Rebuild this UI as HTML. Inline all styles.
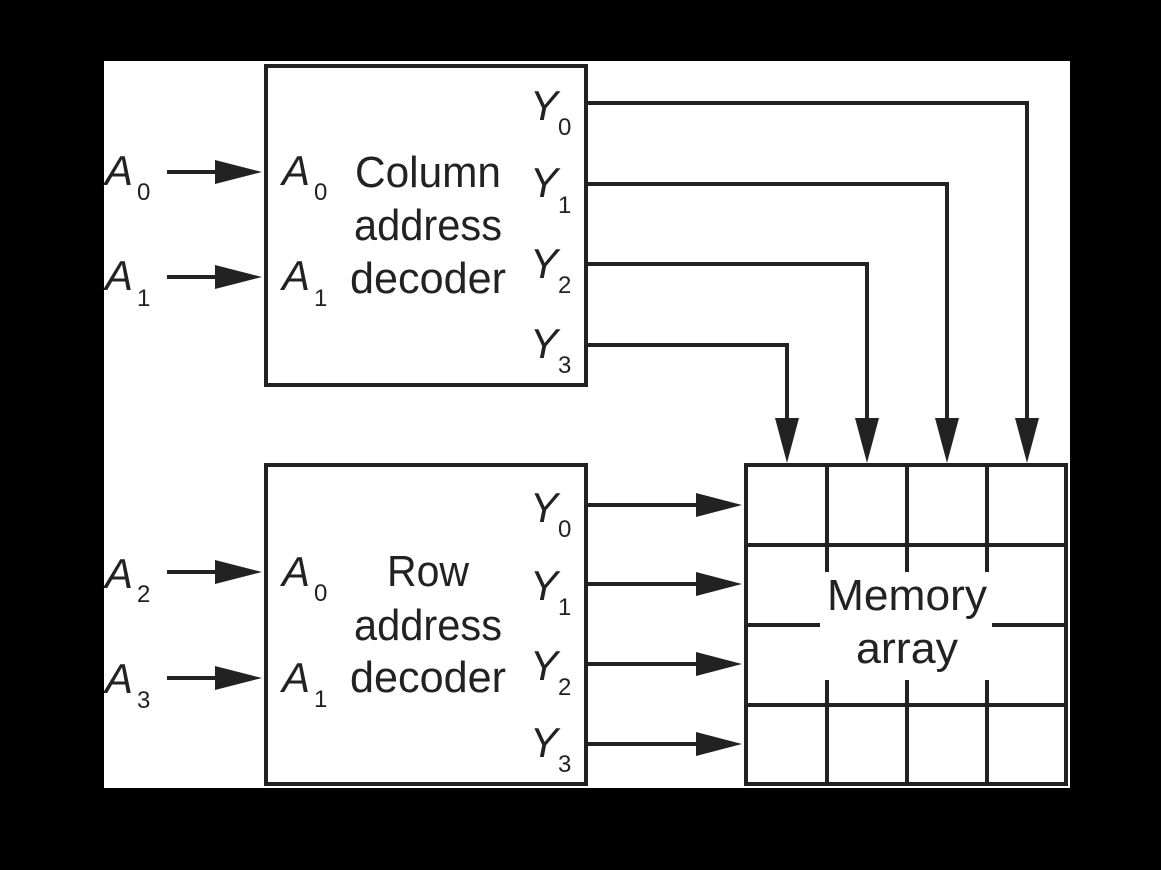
<!DOCTYPE html>
<html><head><style>html,body{margin:0;padding:0;background:#000;}svg{display:block}</style></head>
<body>
<svg width="1161" height="870" viewBox="0 0 1161 870" xmlns="http://www.w3.org/2000/svg" font-family="Liberation Sans, sans-serif" fill="#222">
<rect x="0" y="0" width="1161" height="870" fill="#000"/>
<rect x="104" y="61" width="966" height="727" fill="#fff"/>
<g stroke="#222" stroke-width="4" fill="none">
<rect x="266" y="66" width="320" height="319"/>
<rect x="266" y="465" width="320" height="319"/>
<rect x="746" y="465" width="320" height="319"/>
<!-- grid -->
<line x1="827" y1="465" x2="827" y2="572"/><line x1="907" y1="465" x2="907" y2="572"/><line x1="987" y1="465" x2="987" y2="572"/>
<line x1="827" y1="680" x2="827" y2="784"/><line x1="907" y1="680" x2="907" y2="784"/><line x1="987" y1="680" x2="987" y2="784"/>
<line x1="746" y1="545" x2="1066" y2="545"/><line x1="746" y1="705" x2="1066" y2="705"/>
<line x1="746" y1="625" x2="820" y2="625"/><line x1="992" y1="625" x2="1066" y2="625"/>
<!-- column outputs -->
<polyline points="586,103 1027,103 1027,425"/>
<polyline points="586,184 947,184 947,425"/>
<polyline points="586,264 867,264 867,425"/>
<polyline points="586,345 787,345 787,425"/>
<!-- row outputs -->
<line x1="586" y1="505" x2="700" y2="505"/><line x1="586" y1="584" x2="700" y2="584"/>
<line x1="586" y1="664" x2="700" y2="664"/><line x1="586" y1="744" x2="700" y2="744"/>
<!-- inputs -->
<line x1="167" y1="172" x2="220" y2="172"/><line x1="167" y1="277" x2="220" y2="277"/>
<line x1="167" y1="572" x2="220" y2="572"/><line x1="167" y1="678" x2="220" y2="678"/>
</g>
<g fill="#222">
<polygon points="1015,418 1039,418 1027,463"/>
<polygon points="935,418 959,418 947,463"/>
<polygon points="855,418 879,418 867,463"/>
<polygon points="775,418 799,418 787,463"/>
<polygon points="696,493 696,517 742,505"/>
<polygon points="696,572 696,596 742,584"/>
<polygon points="696,652 696,676 742,664"/>
<polygon points="696,732 696,756 742,744"/>
<polygon points="215,160 215,184 262,172"/>
<polygon points="215,265 215,289 262,277"/>
<polygon points="215,560 215,584 262,572"/>
<polygon points="215,666 215,690 262,678"/>
</g>
<g font-size="44" text-anchor="middle">
<text x="428" y="187" textLength="146" lengthAdjust="spacingAndGlyphs">Column</text>
<text x="428" y="240" textLength="148" lengthAdjust="spacingAndGlyphs">address</text>
<text x="428" y="293" textLength="156" lengthAdjust="spacingAndGlyphs">decoder</text>
<text x="428" y="586" textLength="82" lengthAdjust="spacingAndGlyphs">Row</text>
<text x="428" y="640" textLength="148" lengthAdjust="spacingAndGlyphs">address</text>
<text x="428" y="692" textLength="156" lengthAdjust="spacingAndGlyphs">decoder</text>
<text x="907" y="610" textLength="160" lengthAdjust="spacingAndGlyphs">Memory</text>
<text x="907" y="663" textLength="102" lengthAdjust="spacingAndGlyphs">array</text>
</g>
<g font-size="42" font-style="italic">
<text x="530" y="120">Y</text><text x="530" y="197">Y</text><text x="530" y="278">Y</text><text x="530" y="358">Y</text>
<text x="530" y="522">Y</text><text x="530" y="600">Y</text><text x="530" y="680">Y</text><text x="530" y="757">Y</text>
<text x="282" y="185">A</text><text x="282" y="290">A</text>
<text x="282" y="586">A</text><text x="282" y="692">A</text>
<text x="105" y="185">A</text><text x="105" y="290">A</text>
<text x="105" y="588">A</text><text x="105" y="693">A</text>
</g>
<g font-size="24">
<text x="558" y="135">0</text><text x="558" y="213">1</text><text x="558" y="293">2</text><text x="558" y="373">3</text>
<text x="558" y="537">0</text><text x="558" y="615">1</text><text x="558" y="695">2</text><text x="558" y="772">3</text>
<text x="314" y="200">0</text><text x="314" y="306">1</text>
<text x="314" y="601">0</text><text x="314" y="707">1</text>
<text x="137" y="200">0</text><text x="137" y="306">1</text>
<text x="137" y="602">2</text><text x="137" y="708">3</text>
</g>
</svg>
</body></html>
